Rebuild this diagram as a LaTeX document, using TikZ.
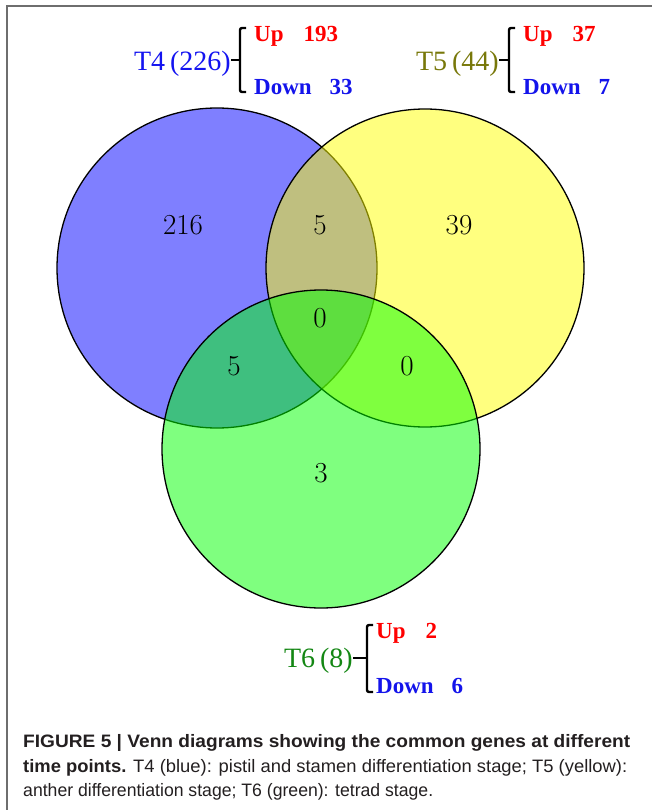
\documentclass[tikz,border=0pt]{standalone}
\usepackage{fontspec}
\usepackage{graphicx}
\newfontfamily\labfont{Liberation Serif}
\newfontfamily\capfont{Liberation Sans}
\definecolor{vblue}{RGB}{0,0,255}
\definecolor{vyellow}{RGB}{255,255,0}
\definecolor{vgreen}{RGB}{0,255,0}
\definecolor{upred}{RGB}{255,0,0}
\definecolor{dnblue}{RGB}{20,20,235}
\definecolor{tfblue}{RGB}{20,20,240}
\definecolor{tfive}{RGB}{120,120,10}
\definecolor{tsix}{RGB}{20,135,20}
\definecolor{framegray}{RGB}{110,110,110}
\definecolor{captext}{RGB}{35,31,32}
\tikzset{
  setcircle/.style={circle, draw=black, line width=1.3pt, fill opacity=0.5, text opacity=1, minimum size=#1, inner sep=0pt},
  count/.style={font=\fontsize{29}{29}\selectfont, text=black},
  setlabel/.style={font=\labfont\fontsize{28}{28}\selectfont, anchor=base east, inner sep=0pt},
  uplab/.style={font=\labfont\bfseries\fontsize{23}{23}\selectfont, text=upred, anchor=base west, inner sep=0pt},
  downlab/.style={font=\labfont\bfseries\fontsize{23}{23}\selectfont, text=dnblue, anchor=base west, inner sep=0pt},
  bracket/.style={draw=black, line width=2.4pt, rounded corners=2pt},
  captline/.style={font=\capfont\fontsize{18}{18}\selectfont, text=captext, anchor=base west, inner sep=0pt},
}
\begin{document}
\begin{tikzpicture}[x=1pt, y=-1pt]
\useasboundingbox (0,0) rectangle (652,810);
% frame
\draw[framegray, line width=2pt] (7,810) -- (7,6) -- (652,6);
% circles
\node[setcircle=320pt, fill=vblue] (t4) at (217,268) {};
\node[setcircle=318pt, fill=vyellow] (t5) at (425,268) {};
\node[setcircle=318pt, fill=vgreen] (t6) at (321,449) {};
% counts
\node[count] (n4) at (183,225) {216};
\node[count] (n45) at (320,225) {5};
\node[count] (n5) at (459,225) {39};
\node[count] (n456) at (320,318) {0};
\node[count] (n46) at (234,366) {5};
\node[count] (n56) at (407,366) {0};
\node[count] (n6) at (321,473) {3};
% T4 label
\node[setlabel, text=tfblue] (l4) at (231,71) {T4\hspace{5pt}(226)};
\node[uplab] (u4) at (254,42) {Up\hspace{20pt}193};
\node[downlab] (d4) at (254,95) {Down\hspace{18pt}33};
\coordinate (b4t) at (240,28); \coordinate (b4b) at (240,92); \coordinate (b4m) at (240,60);
\draw[bracket] ([xshift=6pt]b4t) -- (b4t) -- (b4b) -- ([xshift=6pt]b4b);
\draw[draw=black, line width=2.4pt] (l4.east |- b4m) -- (b4m);
% T5 label
\node[setlabel, text=tfive] (l5) at (499,71) {T5\hspace{5pt}(44)};
\node[uplab] (u5) at (523,42) {Up\hspace{20pt}37};
\node[downlab] (d5) at (523,95) {Down\hspace{18pt}7};
\coordinate (b5t) at (509,28); \coordinate (b5b) at (509,92); \coordinate (b5m) at (509,60);
\draw[bracket] ([xshift=6pt]b5t) -- (b5t) -- (b5b) -- ([xshift=6pt]b5b);
\draw[draw=black, line width=2.4pt] (l5.east |- b5m) -- (b5m);
% T6 label
\node[setlabel, text=tsix] (l6) at (353,667) {T6\hspace{5pt}(8)};
\node[uplab] (u6) at (376,638) {Up\hspace{20pt}2};
\node[downlab] (d6) at (376,693) {Down\hspace{18pt}6};
\coordinate (b6t) at (367,625); \coordinate (b6b) at (367,692); \coordinate (b6m) at (367,658);
\draw[bracket] ([xshift=6pt]b6t) -- (b6t) -- (b6b) -- ([xshift=6pt]b6b);
\draw[draw=black, line width=2.4pt] (l6.east |- b6m) -- (b6m);
% caption
\node[captline] (c1) at (23,747) {\resizebox{607pt}{\height}{\bfseries FIGURE 5 | Venn diagrams showing the common genes at different}};
\node[captline] (c2) at (23,772) {\resizebox{604pt}{\height}{\textbf{time points.} T4 (blue): pistil and stamen differentiation stage; T5 (yellow):}};
\node[captline] (c3) at (23,796) {\resizebox{410pt}{\height}{anther differentiation stage; T6 (green): tetrad stage.}};
\end{tikzpicture}
\end{document}
